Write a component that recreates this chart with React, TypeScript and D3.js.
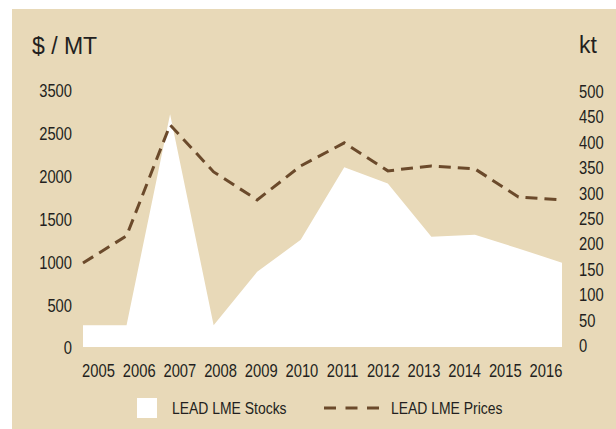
import * as d3 from "d3";

const years = ["2005", "2006", "2007", "2008", "2009", "2010", "2011", "2012", "2013", "2014", "2015", "2016"];
// LEAD LME Stocks, kt (right axis)
const stocks = [43, 43, 458, 43, 148, 211, 354, 322, 217, 221, 194, 166];
// LEAD LME Prices, $/MT (left axis)
const prices = [981, 1297, 2593, 2044, 1717, 2114, 2383, 2056, 2114, 2079, 1752, 1717];

const leftTicks = [0, 500, 1000, 1500, 2000, 2500, 3000];
const leftTickLabels = ["0", "500", "1000", "1500", "2000", "2500", "3500"];
const rightTicks = [0, 50, 100, 150, 200, 250, 300, 350, 400, 450, 500];

const W = 616;
const H = 429;
const BG = "#e8d9b8";
const LINE = "#6b4a2b";
const TEXT = "#231f20";
const SANS = "'Liberation Sans', Arial, sans-serif";

// no narrow font installed: squeeze Liberation Sans horizontally
function NText(props: {
  x: number;
  y: number;
  size: number;
  anchor?: "start" | "middle" | "end";
  children: string | number;
}) {
  return (
    <g transform={`translate(${props.x},${props.y}) scale(0.82,1)`}>
      <text
        x={0}
        y={0}
        dy="0.36em"
        textAnchor={props.anchor || "start"}
        fontFamily={SANS}
        fontSize={props.size}
        fill={TEXT}
      >
        {props.children}
      </text>
    </g>
  );
}

export default function App() {
  const x = d3.scalePoint<string>().domain(years).range([83, 562]);
  const xLabel = d3.scalePoint<string>().domain(years).range([98.5, 546]);
  const yLeft = d3.scaleLinear().domain([0, 3000]).range([347, 90]);
  const yRight = d3.scaleLinear().domain([0, 500]).range([347, 93]);

  const area = d3
    .area<number>()
    .x((_, i) => x(years[i]) as number)
    .y0(yRight(0))
    .y1((d) => yRight(d));

  const line = d3
    .line<number>()
    .x((_, i) => x(years[i]) as number)
    .y((d) => yLeft(d));

  return (
    <div style={{ position: "absolute", left: 0, top: 0 }}>
      <svg width={W} height={H} style={{ display: "block" }}>
        <rect x={0} y={0} width={W} height={H} fill="#fff" />
        <rect x={12} y={9} width={W - 12} height={H - 9} fill={BG} />

        <text x={32} y={54} fontFamily={SANS} fontSize={23} fill={TEXT}>
          $ / MT
        </text>
        <text x={579} y={53} fontFamily={SANS} fontSize={23} fill={TEXT}>
          kt
        </text>

        <path d={area(stocks) || ""} fill="#fff" />
        <path
          d={line(prices) || ""}
          fill="none"
          stroke={LINE}
          strokeWidth={3}
          strokeDasharray="12 7"
        />

        {leftTicks.map((t, i) => (
          <NText key={"l" + t} x={72} y={yLeft(t) + 1} size={18} anchor="end">
            {leftTickLabels[i]}
          </NText>
        ))}

        {rightTicks.map((t) => (
          <NText key={"r" + t} x={579} y={yRight(t) - 1.5} size={18}>
            {t}
          </NText>
        ))}

        {years.map((yr) => (
          <NText key={yr} x={xLabel(yr) as number} y={371} size={18} anchor="middle">
            {yr}
          </NText>
        ))}

        <rect x={137} y={398} width={20} height={20} fill="#fff" />
        <NText x={172} y={408} size={17}>
          LEAD LME Stocks
        </NText>
        <line x1={324} x2={379} y1={408} y2={408} stroke={LINE} strokeWidth={3} strokeDasharray="12 9.5" />
        <NText x={391} y={408} size={17}>
          LEAD LME Prices
        </NText>
      </svg>
    </div>
  );
}
